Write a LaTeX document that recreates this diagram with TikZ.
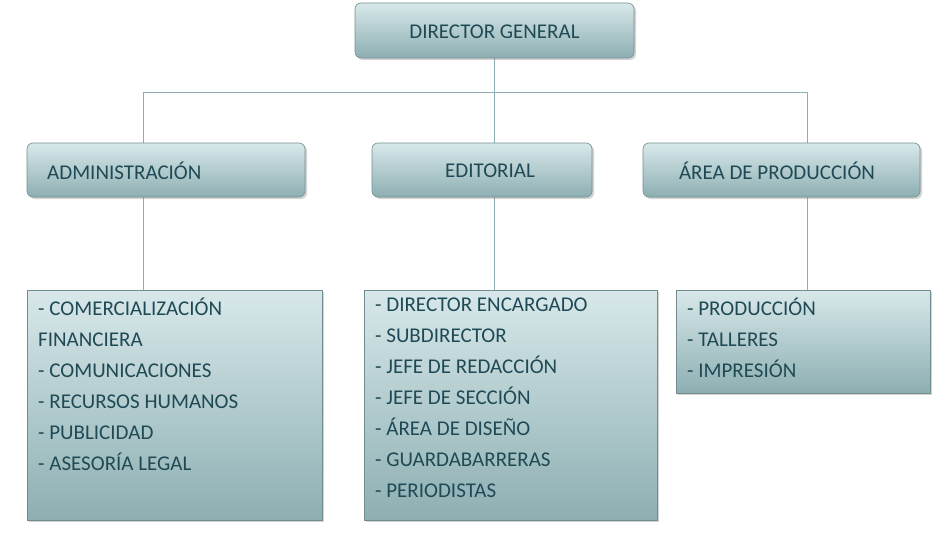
\documentclass[tikz,border=0pt]{standalone}
\usepackage{fontspec}
\setmainfont{Carlito}
\usetikzlibrary{shadows}
\definecolor{tx}{HTML}{1F4A55}
\definecolor{ctop}{HTML}{D8E8EA}
\definecolor{cbot}{HTML}{8DAFB2}
\definecolor{ln}{HTML}{8FB0B3}
\begin{document}
\begin{tikzpicture}[x=1pt,y=-1pt,
 box/.style={draw=ln!80!black,line width=0.6pt,top color=ctop,bottom color=cbot,
   drop shadow={shadow xshift=2pt,shadow yshift=-2pt,opacity=0.35}},
 rbox/.style={box,rounded corners=6pt},
 lbl/.style={text=tx,font=\fontsize{21}{31}\selectfont,inner sep=0pt},
 con/.style={draw=ln,line width=1pt}]
\useasboundingbox (0,0) rectangle (941,532);
\draw[con] (494,58) -- (494,93) coordinate (m);
\draw[con] (143,143) -- (143,93) -- (807,93) -- (807,143);
\draw[con] (494,93) -- (494,143);
\draw[con] (143,197) -- (143,290);
\draw[con] (494,197) -- (494,290);
\draw[con] (807,197) -- (807,290);
\path[rbox] (355,3) rectangle (634,58);
\node[lbl] (dg) at (494.5,32) {DIRECTOR GENERAL};
\path[rbox] (27,143) rectangle (305,197);
\node[lbl,anchor=west] (adm) at (47,171) {ADMINISTRACIÓN};
\path[rbox] (372,143) rectangle (592,197);
\node[lbl] (ed) at (490,171) {EDITORIAL};
\path[rbox] (643,143) rectangle (920,197);
\node[lbl] (ar) at (777,171) {ÁREA DE PRODUCCIÓN};
\path[box] (27,290) rectangle (322,520);
\node[lbl,anchor=north west,align=left] (l1) at (38,298) {- COMERCIALIZACIÓN\\FINANCIERA\\- COMUNICACIONES\\- RECURSOS HUMANOS\\- PUBLICIDAD\\- ASESORÍA LEGAL};
\path[box] (364,290) rectangle (657,520);
\node[lbl,anchor=north west,align=left] (l2) at (375,298) {- DIRECTOR ENCARGADO\\- SUBDIRECTOR\\- JEFE DE REDACCIÓN\\- JEFE DE SECCIÓN\\- ÁREA DE DISEÑO\\- GUARDABARRERAS\\- PERIODISTAS};
\path[box] (676,290) rectangle (930,393);
\node[lbl,anchor=north west,align=left] (l3) at (687,298) {- PRODUCCIÓN\\- TALLERES\\- IMPRESIÓN};
\end{tikzpicture}
\end{document}
